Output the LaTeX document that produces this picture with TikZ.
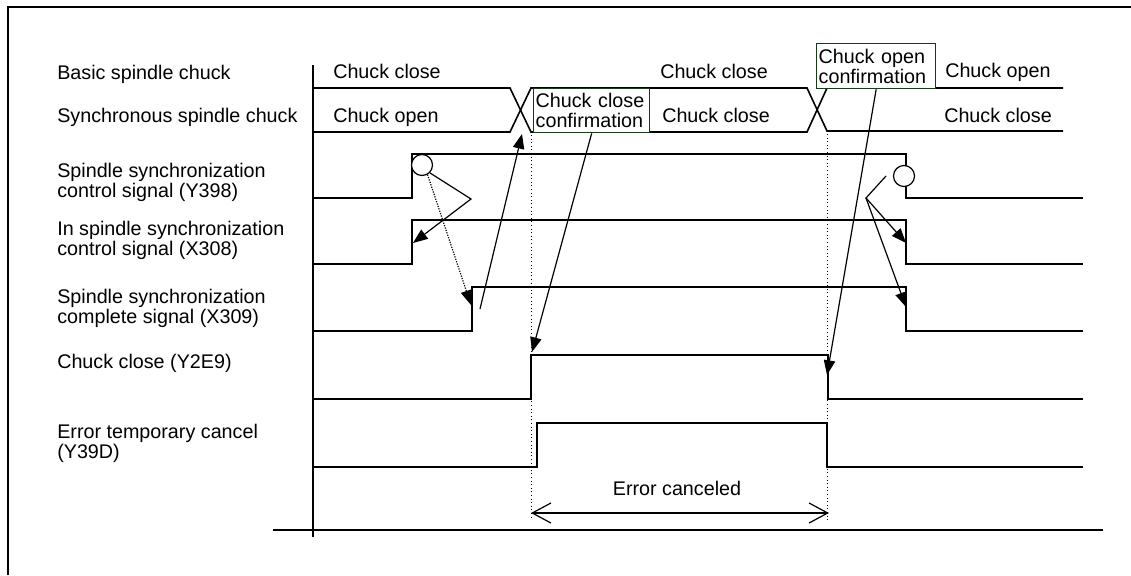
\documentclass[tikz,border=0pt]{standalone}
\usepackage{fontspec}
\setmainfont{Liberation Sans}
\usetikzlibrary{arrows.meta,positioning}
\definecolor{boxgreen}{RGB}{24,58,24}

\begin{document}
\begin{tikzpicture}[
x=0.75pt, y=-0.75pt,
font=\fontsize{14.8pt}{15pt}\selectfont,
lbl/.style={anchor=base west, inner sep=0pt, align=left},
sig/.style={line width=1.2pt},
axis/.style={line width=0.9pt},
conf/.style={draw=boxgreen, fill=white, line width=1pt, anchor=north west, align=left, inner xsep=1.5pt, inner ysep=0pt},
ring/.style={circle, draw, fill=white, line width=0.9pt, minimum size=15.75pt, inner sep=0pt},
arrow/.style={-{Triangle[length=11pt,width=8.5pt]}, line width=0.9pt},
guide/.style={dotted, line width=0.7pt},
span/.style={{Straight Barb[length=14pt,width=15pt]}-{Straight Barb[length=14pt,width=15pt]}, line width=0.9pt}
]
\useasboundingbox (0,0) rectangle (1131,575);
\draw[line width=1.5pt] (8,575) -- (8,7) -- (1131,7);

\node[lbl] (basic) at (57,79) {Basic spindle chuck};
\node[lbl] (sync) at (57,122) {Synchronous spindle chuck};
\node[lbl] (y398) at (57,197) {Spindle synchronization\\control signal (Y398)};
\node[lbl] (x308) at (57,255) {In spindle synchronization\\control signal (X308)};
\node[lbl] (x309) at (57,323) {Spindle synchronization\\complete signal (X309)};
\node[lbl] (y2e9) at (57,368) {Chuck close (Y2E9)};
\node[lbl] (y39d) at (57,458) {Error temporary cancel\\(Y39D)};

\draw[axis] (313,65) -- (313,537);
\draw[axis] (273,530) -- (1103,530);

\draw[sig] (313,88) -- (510,88) -- (531,132) -- (807,132) -- (827,88) -- (1063,88);
\draw[sig] (313,132) -- (510,132) -- (531,88) -- (807,88) -- (827,131) -- (1063,131);
\draw[sig] (313,198) -- (412,198) -- (412,154) -- (906,154) -- (906,198) -- (1083,198);
\draw[sig] (313,264) -- (412,264) -- (412,220) -- (906,220) -- (906,264) -- (1083,264);
\draw[sig] (313,331) -- (472,331) -- (472,287) -- (906,287) -- (906,331) -- (1083,331);
\draw[sig] (313,399) -- (531,399) -- (531,355) -- (828,355) -- (828,399) -- (1083,399);
\draw[sig] (313,467) -- (537,467) -- (537,423) -- (827,423) -- (827,467) -- (1083,467);

\node[lbl] (bclose) at (333,78) {Chuck close};
\node[lbl] (sopen) at (333,122) {Chuck open};
\node[lbl] (bclose2) at (660,78) {Chuck close};
\node[lbl] (sclose) at (662,122) {Chuck close};
\node[lbl] (bopen) at (945,77) {Chuck open};
\node[lbl] (sclose2) at (944,122) {Chuck close};

\node[conf, text width=84pt, minimum height=33pt] (ccconf) at (533,88) {Chuck close\\confirmation};
\node[conf, text width=86.25pt, minimum height=33.75pt] (coconf) at (816,43) {Chuck open\\confirmation};

\node[ring] (ringL) at (422,165) {};
\node[ring] (ringR) at (904,176) {};

\draw[guide] (531,135) -- (531,520);
\draw[guide] (827,134) -- (827,520);

\coordinate (vL) at (471,199);
\coordinate (vR) at (866,198);
\coordinate (x308on) at (413,243);
\coordinate (x309on) at (471,305);
\coordinate (x309up) at (480,309);
\coordinate (cross1) at (522,134);
\coordinate (y2e9on) at (532,352);
\coordinate (y2e9off) at (827,375);
\coordinate (x308off) at (906,243);
\coordinate (x309off) at (906,307);
\coordinate (startR) at (886,176);

\draw[arrow] (ringL.south east) -- (vL) -- (x308on);
\draw[arrow, densely dotted] (ringL.-60) -- (x309on);
\draw[arrow] (x309up) -- (cross1);
\draw[arrow] (ccconf.south) -- (y2e9on);
\draw[arrow] (coconf.south) -- (y2e9off);
\draw[arrow] (startR) -- (vR) -- (x308off);
\draw[arrow] (vR) -- (x309off);

\coordinate (spanL) at (531,513);
\coordinate (spanR) at (829,513);
\node[anchor=base] (errc) at (677,495) {Error canceled};
\draw[span] (spanL) -- (spanR);
\end{tikzpicture}
\end{document}
